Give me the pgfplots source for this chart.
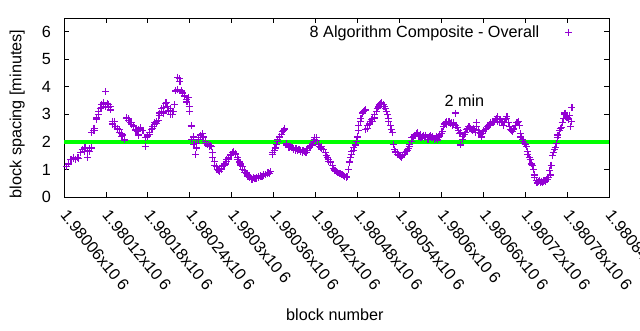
\documentclass[border=0pt]{standalone}
\usepackage{pgfplots}
\pgfplotsset{compat=1.18}
\usepackage{fontspec}
\setmainfont{Liberation Sans}
\definecolor{gpviolet}{RGB}{148,0,211}
\definecolor{gpgreen}{RGB}{0,255,0}
\begin{document}
\begin{tikzpicture}[font=\fontsize{16.2}{19}\selectfont]
\clip (0,0) rectangle (640pt,330pt);
\path[use as bounding box] (0,0) rectangle (640pt,330pt);
\begin{axis}[
  at={(64pt,133pt)}, anchor=south west,
  width=545pt, height=179pt, scale only axis,
  xmin=60, xmax=840, ymin=0, ymax=6.5,
  xtick={60,120,...,840},
  xticklabels={1.98006x10 6,1.98012x10 6,1.98018x10 6,1.98024x10 6,1.9803x10 6,1.98036x10 6,1.98042x10 6,1.98048x10 6,1.98054x10 6,1.9806x10 6,1.98066x10 6,1.98072x10 6,1.98078x10 6,1.98084x10 6},
  ytick={0,1,2,3,4,5,6},
  /pgf/number format/assume math mode=true,
  tick align=inside,
  major tick length=5pt,
  tick style={black, line width=0.8pt},
  axis line style={black, line width=0.9pt},
  xticklabel style={yshift=-15pt, rotate=-51, anchor=west, inner sep=0pt},
  yticklabel style={inner sep=0pt, xshift=-13pt},
  ylabel={block spacing [minutes]},
  ylabel style={at={(axis description cs:-0.086,0.464)}, anchor=center, rotate=0},
  xlabel={block number},
  xlabel style={at={(axis description cs:0.497,0)}, anchor=center, yshift=-118pt},
  legend plot pos=right,
  legend cell align=right,
  legend style={draw=none, fill=none, at={(axis description cs:0.933,0.920)}, anchor=east, inner sep=0pt, column sep=26pt, nodes={inner sep=0pt}},
]
\addplot[only marks, mark=+, mark size=3.5pt, gpviolet, mark options={line width=1.1pt}] table {
x y
64 1.10
67 1.20
70 1.35
73 1.40
74 1.45
77 1.38
80 1.42
81 1.40
84 1.60
86 1.72
89 1.65
90 1.78
93 1.70
94 1.45
96 1.65
97 1.75
99 1.78
100 2.33
102 2.40
103 2.50
104 2.40
106 2.80
107 2.87
109 3.00
110 3.10
112 3.20
113 3.25
114 3.35
116 3.40
117 3.42
119 3.30
120 3.82
122 3.40
123 3.35
124 3.27
126 3.30
127 3.16
129 2.75
130 2.65
132 2.73
133 2.55
134 2.56
136 2.50
137 2.45
139 2.44
140 2.35
142 2.30
143 2.19
144 2.25
146 2.07
149 2.85
150 2.88
152 2.84
153 2.78
155 2.72
156 2.69
157 2.62
159 2.60
160 2.56
162 2.45
163 2.40
165 2.37
166 2.45
167 2.25
169 2.50
170 2.52
173 2.40
176 1.82
177 2.15
179 2.20
180 2.25
182 2.26
183 2.35
185 2.45
186 2.50
187 2.56
189 2.62
190 2.70
192 2.68
193 2.73
195 2.78
196 2.95
197 3.05
199 3.10
200 3.20
202 3.05
203 3.25
205 3.40
206 3.42
208 3.30
209 3.15
210 3.10
212 3.20
213 3.00
215 2.98
216 3.10
218 3.35
220 3.85
222 3.90
223 4.35
225 4.30
226 4.20
228 3.85
229 3.78
230 3.75
232 3.70
233 3.64
235 3.55
236 3.45
238 3.60
239 3.30
240 3.10
242 2.58
243 2.10
245 2.18
246 1.90
248 1.53
249 1.78
250 1.95
252 2.10
253 2.15
255 2.25
256 2.22
258 2.30
259 2.20
260 2.15
262 2.00
263 1.95
265 1.89
266 1.90
268 1.85
269 1.88
271 1.82
272 1.60
273 1.45
275 1.30
276 1.15
278 1.10
279 1.00
281 0.95
282 0.91
283 1.05
285 1.10
286 1.00
288 1.15
289 1.16
291 1.20
292 1.28
293 1.35
295 1.38
296 1.42
298 1.50
299 1.55
301 1.62
302 1.64
303 1.60
305 1.58
306 1.53
308 1.45
309 1.35
311 1.27
312 1.20
313 1.15
315 1.10
316 1.00
318 0.95
319 0.90
321 0.87
322 0.80
323 0.75
325 0.72
326 0.70
328 0.69
329 0.65
331 0.70
332 0.68
334 0.66
335 0.69
336 0.72
338 0.75
339 0.70
341 0.78
342 0.73
344 0.76
345 0.80
346 0.78
348 0.82
349 0.80
351 0.85
352 0.88
354 0.85
355 0.92
356 0.91
358 1.53
359 1.62
361 1.70
362 1.78
364 1.90
365 2.00
366 2.10
368 2.15
369 2.20
371 2.26
372 2.37
374 2.40
375 2.44
376 2.50
378 1.95
379 1.89
381 1.85
382 1.80
384 1.85
385 1.78
387 1.78
388 1.75
389 1.72
391 1.70
392 1.75
394 1.68
395 1.72
397 1.71
398 1.65
399 1.70
401 1.62
402 1.68
404 1.65
405 1.60
407 1.60
408 1.70
409 1.75
411 1.80
412 1.85
414 1.88
415 1.89
417 2.00
418 2.10
419 2.15
421 2.15
422 2.05
424 1.90
425 1.85
427 1.80
428 1.82
429 1.75
431 1.72
432 1.71
434 1.60
435 1.50
437 1.42
438 1.35
439 1.30
441 1.28
442 1.24
444 1.15
445 1.05
447 0.98
448 0.95
450 0.92
451 0.90
452 0.88
454 0.87
455 0.85
457 0.80
458 0.82
460 0.78
461 0.76
462 0.75
464 0.72
465 0.73
467 1.00
468 1.27
470 1.45
471 1.55
472 1.64
474 1.70
475 1.80
477 1.89
478 2.00
480 2.18
481 2.40
482 2.60
484 2.73
485 2.85
487 3.05
488 3.10
490 3.15
491 3.16
492 2.44
494 2.50
495 2.60
497 2.65
498 2.73
500 2.80
501 2.75
502 2.85
504 2.87
505 3.00
507 3.10
508 3.20
510 3.27
511 3.35
513 3.40
514 3.38
515 3.42
517 3.35
518 3.30
520 3.20
521 3.10
523 3.00
524 2.85
525 2.73
527 2.60
528 2.45
530 2.33
531 1.90
533 1.71
534 1.65
535 1.62
537 1.60
538 1.55
540 1.50
541 1.48
543 1.45
544 1.50
545 1.52
547 1.55
548 1.60
550 1.64
551 1.70
553 1.75
554 1.82
555 1.90
557 2.00
558 2.15
560 2.20
561 2.25
563 2.22
564 2.30
566 2.33
567 2.25
568 2.20
570 2.28
571 2.15
573 2.18
574 2.22
576 2.15
577 2.20
578 2.25
580 2.15
581 2.10
583 2.20
584 2.22
586 2.15
587 2.15
588 2.20
590 2.10
591 2.12
593 2.20
594 2.07
596 2.15
597 2.20
598 2.25
600 2.30
601 2.37
603 2.55
604 2.65
606 2.70
607 2.73
608 2.65
610 2.70
611 2.75
613 2.68
614 2.69
616 2.60
617 2.70
618 2.65
620 3.05
621 2.60
623 2.51
624 2.40
626 2.30
627 2.35
628 1.89
630 2.10
631 2.20
633 2.26
634 2.35
636 2.45
637 2.50
639 2.55
640 2.56
641 2.50
643 2.45
644 2.40
646 2.50
647 2.44
649 2.35
650 2.55
651 2.69
653 2.40
654 2.35
656 2.30
657 2.18
659 2.30
660 2.40
661 2.37
663 2.45
664 2.50
666 2.55
667 2.60
669 2.62
670 2.65
671 2.70
673 2.75
674 2.72
676 2.73
677 2.80
679 2.85
680 2.91
681 2.75
683 2.70
684 2.80
686 2.75
687 2.73
689 2.60
690 2.70
692 2.80
693 2.85
694 2.91
696 2.70
697 2.55
699 2.45
700 2.40
702 2.37
703 2.45
704 2.50
706 2.60
707 2.70
709 2.69
710 2.75
712 2.60
713 2.30
714 2.18
716 2.10
717 2.00
719 1.95
720 1.90
722 1.82
723 1.65
724 1.55
726 1.45
727 1.35
729 1.20
730 1.13
732 1.00
733 0.80
734 0.70
736 0.60
737 0.51
739 0.55
740 0.60
742 0.52
743 0.58
745 0.51
746 0.55
747 0.60
749 0.58
750 0.65
752 0.62
753 0.70
755 0.97
756 0.80
757 1.16
759 1.50
760 1.60
762 1.71
763 1.80
765 1.95
766 2.15
767 2.25
769 2.40
770 2.50
772 2.51
773 2.70
775 2.85
776 2.98
777 3.05
779 2.90
780 2.87
782 2.80
783 2.95
785 2.56
786 2.75
787 3.24
};
\addlegendentry{8 Algorithm Composite - Overall}
\addplot[gpgreen, line width=4.5pt, forget plot] coordinates {(60,2) (840,2)};
\node at (axis cs:633,3.49) {2 min};
\end{axis}
\end{tikzpicture}
\end{document}
